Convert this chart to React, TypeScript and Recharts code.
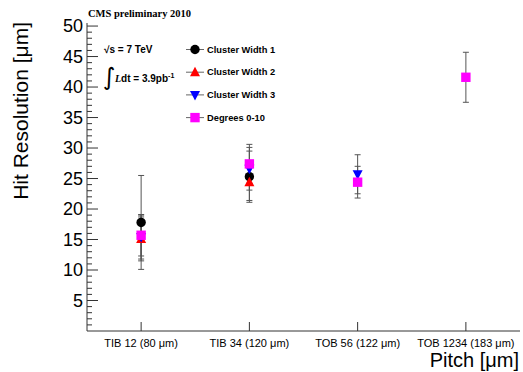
import React from "react";
import { ScatterChart, Scatter, XAxis, YAxis, ErrorBar, Legend } from "recharts";

const categories = ["TIB 12 (80 μm)", "TIB 34 (120 μm)", "TOB 56 (122 μm)", "TOB 1234 (183 μm)"];
const catPos = [1, 2, 3, 4];

const cw1 = [17.8, 25.3, null, null];
const cw1Err = [7.7, 4.2, null, null];
const cw2 = [15.1, 24.4, null, null];
const cw2Err = [3.6, 3.0, null, null];
const cw3 = [15.4, 26.6, 25.7, null];
const cw3Err = [3.6, 3.5, 3.2, null];
const deg = [15.7, 27.4, 24.4, 41.6];
const degErr = [3.4, 3.2, 2.6, 4.1];

const yTicks = [1,2,3,4,5,6,7,8,9,10,11,12,13,14,15,16,17,18,19,20,21,22,23,24,25,26,27,28,29,30,31,32,33,34,35,36,37,38,39,40,41,42,43,44,45,46,47,48,49,50];

const build = (vals: (number | null)[], errs: (number | null)[]) =>
  catPos
    .map((x, i) => ({ x, y: vals[i], err: errs[i] }))
    .filter((d) => d.y !== null);

const FONT = "'Liberation Sans', Arial, Helvetica, sans-serif";
const AXIS = "#333";

const Circle = (p: any) => <circle cx={p.cx} cy={p.cy} r={4.7} fill="#000" />;
const TriUp = (p: any) => (
  <polygon points={`${p.cx},${p.cy - 5.5} ${p.cx - 5},${p.cy + 4} ${p.cx + 5},${p.cy + 4}`} fill="#ff0000" />
);
const TriDown = (p: any) => (
  <polygon points={`${p.cx - 5},${p.cy - 4} ${p.cx + 5},${p.cy - 4} ${p.cx},${p.cy + 5.5}`} fill="#0000ff" />
);
const Square = (p: any) => <rect x={p.cx - 4.7} y={p.cy - 4.7} width={9.4} height={9.4} fill="#ff00ff" />;

const LeftTick = (props: any) => {
  const { x, y, payload } = props;
  const v = payload.value;
  const major = v % 5 === 0;
  return (
    <g>
      <line x1={x} x2={x + (major ? 11 : 5)} y1={y} y2={y} stroke={AXIS} strokeWidth={1} />
      {major && (
        <text x={x - 4} y={y} textAnchor="end" dominantBaseline="central" fontSize={18} fontFamily={FONT} fill="#000">
          {v}
        </text>
      )}
    </g>
  );
};

const RightTick = (props: any) => {
  const { x, y, payload } = props;
  const major = payload.value % 5 === 0;
  return <line x1={x} x2={x - (major ? 11 : 5)} y1={y} y2={y} stroke={AXIS} strokeWidth={1} />;
};

const BottomTick = (props: any) => {
  const { x, y, payload } = props;
  return (
    <g>
      <line x1={x} x2={x} y1={y} y2={y - 9} stroke={AXIS} strokeWidth={1} />
      <text x={x} y={y + 12} textAnchor="middle" dominantBaseline="central" fontSize={11} fontFamily={FONT} fill="#000">
        {categories[payload.value - 1]}
      </text>
    </g>
  );
};

const TopTick = (props: any) => {
  const { x, y } = props;
  return <line x1={x} x2={x} y1={y} y2={y + 9} stroke={AXIS} strokeWidth={1} />;
};

const legendRows = [
  { label: "Cluster Width 1", Shape: Circle },
  { label: "Cluster Width 2", Shape: TriUp },
  { label: "Cluster Width 3", Shape: TriDown },
  { label: "Degrees 0-10", Shape: Square },
];

const Overlay = () => (
  <svg width={523} height={372} style={{ position: "absolute", left: 0, top: 0 }}>
    <text x={88} y={17} fontSize={10.5} fontWeight="bold" fontFamily="'Liberation Serif', 'Times New Roman', serif" fill="#000">
      CMS preliminary 2010
    </text>
    <text x={104} y={53} fontSize={10} fontWeight="bold" fontFamily={FONT} fill="#000">
      √s = 7 TeV
    </text>
    <text x={103} y={85} fontSize={24} fontFamily="'DejaVu Sans', sans-serif" fill="#000">
      ∫
    </text>
    <text x={115} y={82} fontSize={10} fontWeight="bold" fontFamily={FONT} fill="#000">
      <tspan fontStyle="italic" fontFamily="'Liberation Serif', serif">L</tspan>
      <tspan>dt = 3.9pb</tspan>
      <tspan fontSize={7} dy={-4}>-1</tspan>
    </text>
    {legendRows.map((r, i) => {
      const cy = 49.5 + i * 22.7;
      return (
        <g key={r.label}>
          <line x1={186} x2={204} y1={cy} y2={cy} stroke="#666" strokeWidth={1} />
          <r.Shape cx={195} cy={cy} />
          <text x={207} y={cy} dominantBaseline="central" fontSize={9.3} fontWeight="bold" fontFamily={FONT} fill="#000">
            {r.label}
          </text>
        </g>
      );
    })}
    <text x={519} y={367} textAnchor="end" fontSize={20} fontFamily={FONT} fill="#000">
      Pitch [μm]
    </text>
    <text
      x={0}
      y={0}
      transform="translate(28,22) rotate(-90)"
      textAnchor="end"
      fontSize={21}
      fontFamily={FONT}
      fill="#000"
    >
      Hit Resolution [μm]
    </text>
  </svg>
);

const series = [
  { name: "Cluster Width 1", data: build(cw1, cw1Err), shape: Circle },
  { name: "Cluster Width 2", data: build(cw2, cw2Err), shape: TriUp },
  { name: "Cluster Width 3", data: build(cw3, cw3Err), shape: TriDown },
  { name: "Degrees 0-10", data: build(deg, degErr), shape: Square },
];

export default function App() {
  return (
    <div style={{ position: "absolute", left: 0, top: 0, width: 523, height: 372, background: "#fff" }}>
      <ScatterChart width={523} height={372} margin={{ top: 23, right: 3, bottom: 0, left: 0 }}>
        <XAxis
          xAxisId="b"
          type="number"
          dataKey="x"
          domain={[0.5, 4.5]}
          ticks={catPos}
          allowDataOverflow
          height={41}
          tickSize={0}
          tickMargin={0}
          tickLine={false}
          tick={<BottomTick />}
          axisLine={{ stroke: AXIS }}
          interval={0}
        />
        <XAxis
          xAxisId="t"
          orientation="top"
          type="number"
          dataKey="x"
          domain={[0.5, 4.5]}
          ticks={catPos}
          allowDataOverflow
          height={0}
          tickSize={0}
          tickMargin={0}
          tickLine={false}
          tick={<TopTick />}
          axisLine={{ stroke: AXIS }}
          interval={0}
        />
        <YAxis
          yAxisId="l"
          type="number"
          dataKey="y"
          domain={[0, 50.5]}
          ticks={yTicks}
          allowDataOverflow
          width={87}
          tickSize={0}
          tickMargin={0}
          tickLine={false}
          tick={<LeftTick />}
          axisLine={{ stroke: AXIS }}
          interval={0}
        />
        <YAxis
          yAxisId="r"
          orientation="right"
          type="number"
          dataKey="y"
          domain={[0, 50.5]}
          ticks={yTicks}
          allowDataOverflow
          width={0}
          tickSize={0}
          tickMargin={0}
          tickLine={false}
          tick={<RightTick />}
          axisLine={{ stroke: AXIS }}
          interval={0}
        />
        {series.map((s) => (
          <Scatter
            key={s.name}
            name={s.name}
            data={s.data}
            xAxisId="b"
            yAxisId="l"
            shape={s.shape}
            isAnimationActive={false}
          >
            <ErrorBar dataKey="err" direction="y" width={3} stroke="#555" strokeWidth={1} isAnimationActive={false} />
          </Scatter>
        ))}
        <Legend
          layout="horizontal"
          verticalAlign="middle"
          align="center"
          wrapperStyle={{ position: "absolute", left: 0, top: 0, width: 523, height: 372, pointerEvents: "none" }}
          content={() => <Overlay />}
        />
      </ScatterChart>
    </div>
  );
}
